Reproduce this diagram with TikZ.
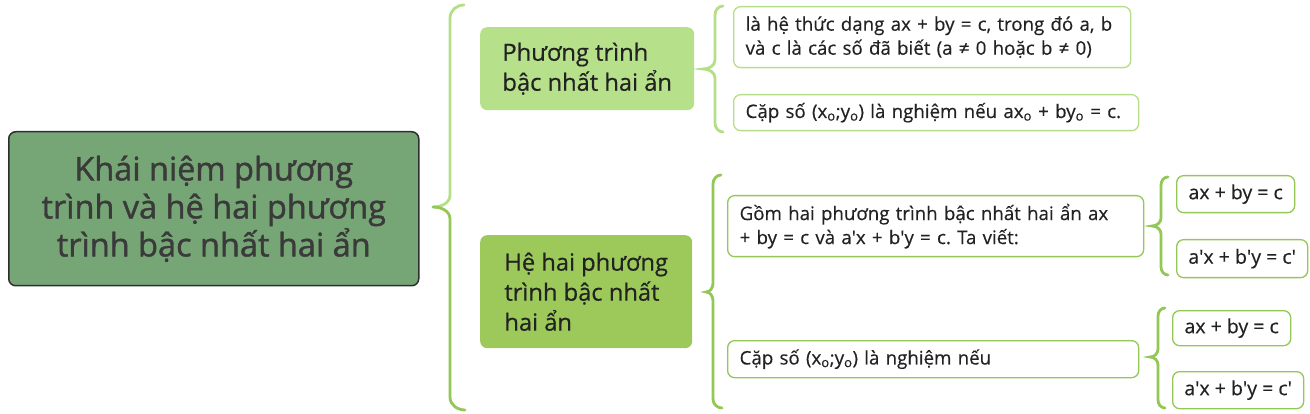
\documentclass[tikz,border=0pt]{standalone}
\usepackage{fontspec}
\setmainfont{Open Sans}[FakeBold=0.35]
\newfontfamily\mainfnt{Open Sans}[FakeBold=1.3]
\newfontfamily\topicfnt{Open Sans}[FakeBold=0.5]
\frenchspacing
\definecolor{mainfill}{HTML}{77A676}
\definecolor{mainborder}{HTML}{2E2E2E}
\definecolor{maintext}{HTML}{3A3A3A}
\definecolor{lightfill}{HTML}{B7E08B}
\definecolor{darkfill}{HTML}{9CC95A}
\definecolor{lightline}{HTML}{B5DF86}
\definecolor{darkline}{HTML}{93C756}
\definecolor{leaftext}{HTML}{222222}
\newcommand\q{\textquotesingle}
\tikzset{
  mainbox/.style={draw=mainborder, line width=1.5pt, fill=mainfill, rounded corners=7pt,
    anchor=north west, text=maintext, align=center, inner sep=0pt,
    font=\mainfnt\fontsize{32.5}{38}\selectfont},
  topicbox/.style={rounded corners=7pt, anchor=north west, text=leaftext, align=left,
    inner xsep=0pt, inner ysep=0pt, font=\topicfnt\fontsize{23.7}{30}\selectfont},
  leafbox/.style={draw, line width=1.3pt, fill=white, rounded corners=7pt, anchor=north west,
    text=leaftext, align=left, inner xsep=12pt, inner ysep=0pt,
    font=\fontsize{18.7}{24}\selectfont},
  eqbox/.style={leafbox, align=center, inner xsep=0pt, font=\fontsize{19.5}{24}\selectfont},
  bracel/.style={draw=lightline, line width=2.8pt, line cap=round},
  braced/.style={draw=darkline, line width=2.8pt, line cap=round},
}
\begin{document}
\begin{tikzpicture}[x=1pt,y=-1pt]
\useasboundingbox (0,0) rectangle (1310,414);
% main node
\node[mainbox, minimum width=410pt, minimum height=154pt] (main) at (8,131)
  {Khái niệm phương\\trình và hệ hai phương\\trình bậc nhất hai ẩn};
% topic nodes
\node[topicbox, fill=lightfill, minimum width=214pt, minimum height=83pt] (t1) at (480,27)
  {Phương trình\\bậc nhất hai ẩn};
\node[topicbox, fill=darkfill, minimum width=212pt, minimum height=113pt] (t2) at (480,235)
  {Hệ hai phương\\trình bậc nhất\\hai ẩn};
% leaves of t1
\node[leafbox, draw=lightline, minimum width=397pt, minimum height=61pt, text width=373pt] (l1) at (733,6)
  {là hệ thức dạng ax + by = c, trong đó a, b\\và c là các số đã biết (a ≠ 0 hoặc b ≠ 0)};
\node[leafbox, draw=lightline, minimum width=405pt, minimum height=36pt, text width=381pt] (l2) at (733,94)
  {Cặp số (x\textsubscript{o};y\textsubscript{o}) là nghiệm nếu ax\textsubscript{o} + by\textsubscript{o} = c.};
% leaves of t2
\node[leafbox, draw=darkline, minimum width=416pt, minimum height=61pt, text width=392pt] (l3) at (727,195)
  {Gồm hai phương trình bậc nhất hai ẩn ax\\+ by = c và a\q x + b\q y = c. Ta viết:};
\node[leafbox, draw=darkline, minimum width=411pt, minimum height=37pt, text width=387pt] (l4) at (727,340)
  {Cặp số (x\textsubscript{o};y\textsubscript{o}) là nghiệm nếu};
% equation leaves
\node[eqbox, draw=darkline, minimum width=118pt, minimum height=37pt] (e1) at (1176,175) {ax + by = c};
\node[eqbox, draw=darkline, minimum width=131pt, minimum height=38pt] (e2) at (1176,239) {a\q x + b\q y = c\q};
\node[eqbox, draw=darkline, minimum width=118pt, minimum height=35pt] (e3) at (1172,310) {ax + by = c};
\node[eqbox, draw=darkline, minimum width=131pt, minimum height=37pt] (e4) at (1172,371) {a\q x + b\q y = c\q};
% brace tips
\coordinate (b1) at (433,207);
\coordinate (b2) at (703,69);
\coordinate (b3) at (706,292);
\coordinate (b4) at (1152,226);
\coordinate (b5) at (1150,357);
% brace 1 (main -> topics)
\draw[bracel] (b1) to[out=0,in=-90] (450,195) -- (450,18) to[out=90,in=180] (464,5);
\draw[braced] (b1) to[out=0,in=90] (450,219) -- (450,397) to[out=-90,in=180] (465,410);
% brace 2 (t1 -> l1,l2)
\draw[bracel] (723,6) to[out=180,in=90] (715,15) -- (715,60) to[out=-90,in=0] (b2)
  to[out=0,in=90] (715,78) -- (715,123) to[out=-90,in=180] (723,132);
% brace 3 (t2 -> l3,l4)
\draw[braced] (721,175) to[out=180,in=90] (713,184) -- (713,283) to[out=-90,in=0] (b3)
  to[out=0,in=90] (713,301) -- (713,399) to[out=-90,in=180] (722,408);
% brace 4 (l3 -> e1,e2)
\draw[braced] (1168,177) to[out=180,in=90] (1161,185) -- (1161,218) to[out=-90,in=0] (b4)
  to[out=0,in=90] (1161,234) -- (1161,267) to[out=-90,in=180] (1168,275);
% brace 5 (l4 -> e3,e4)
\draw[braced] (1165,308) to[out=180,in=90] (1158,316) -- (1158,349) to[out=-90,in=0] (b5)
  to[out=0,in=90] (1158,365) -- (1158,400) to[out=-90,in=180] (1165,408);
\end{tikzpicture}
\end{document}
